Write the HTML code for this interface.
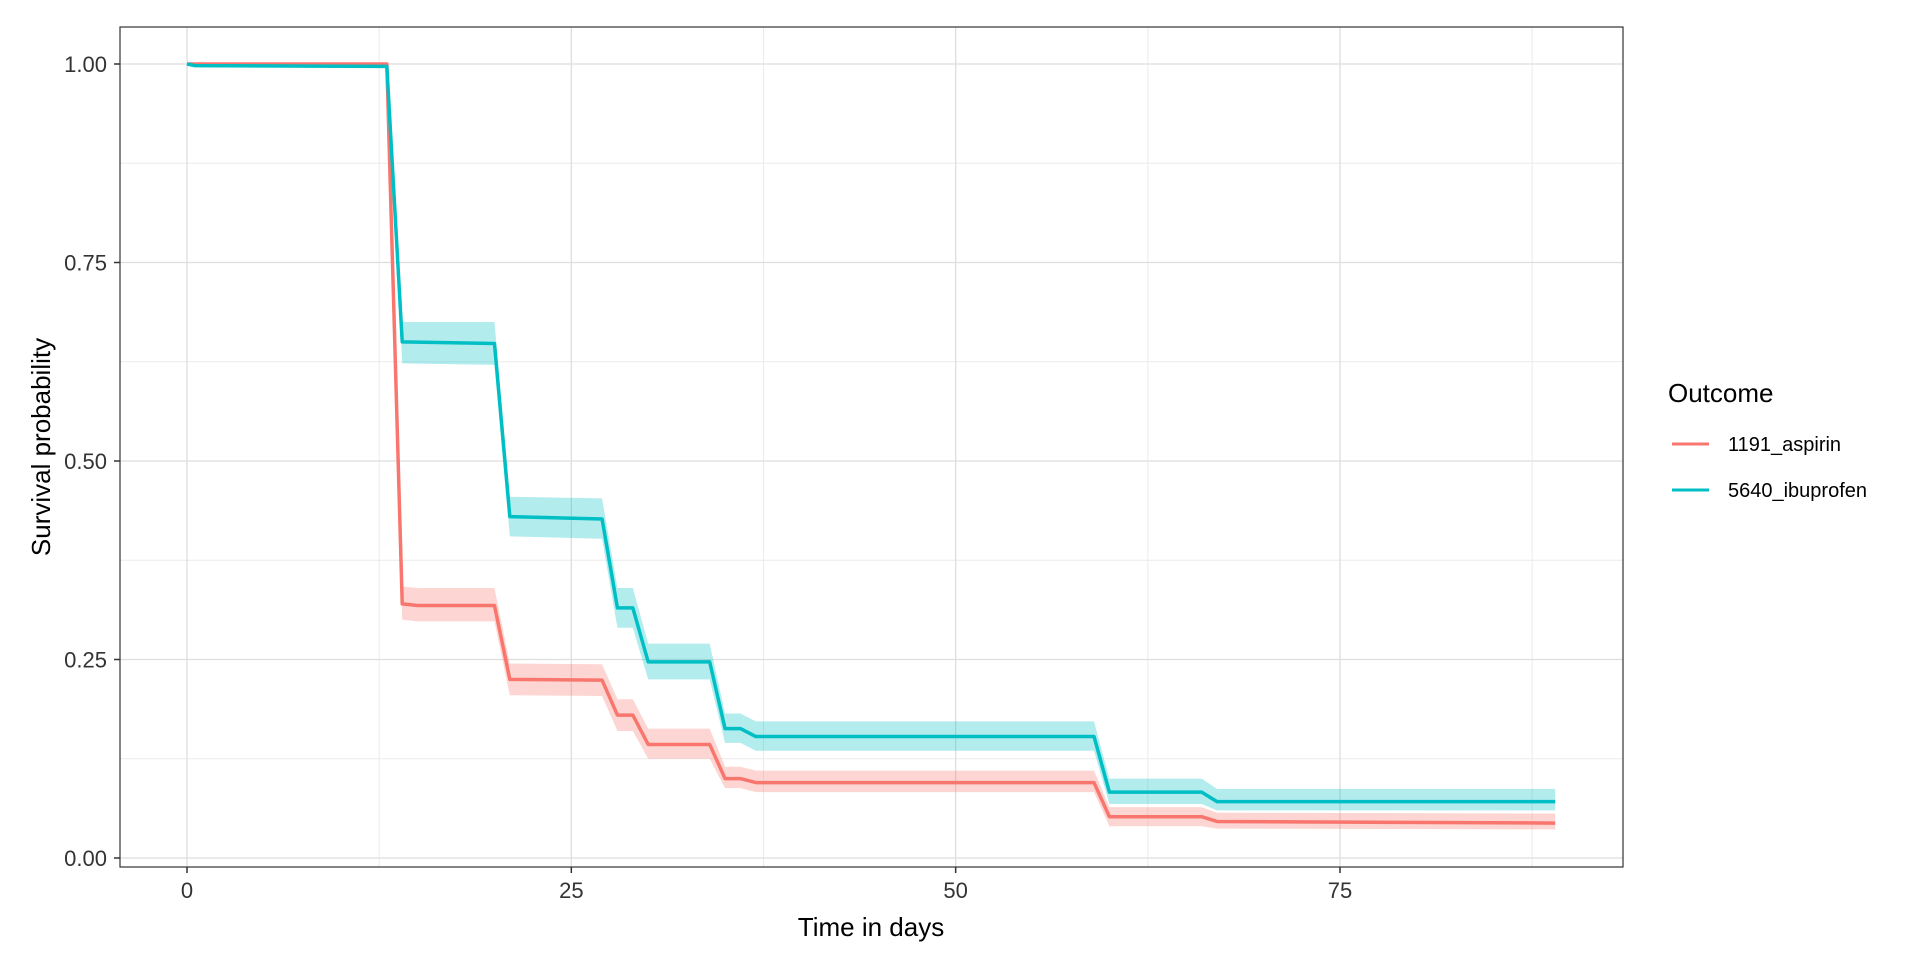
<!DOCTYPE html>
<html><head><meta charset="utf-8"><style>
body{margin:0;background:#fff;}
svg text{font-family:"Liberation Sans",sans-serif;}
</style></head><body>
<svg id="chart" width="1920" height="960" xmlns="http://www.w3.org/2000/svg">
<rect width="1920" height="960" fill="#fff"/>
<g id="grid"></g>
<g id="ribbons"></g>
<g id="lines"></g>
<rect x="120" y="27" width="1503" height="840" fill="none" stroke="#333" stroke-width="1.2"/>
<g id="axes"></g>
<text x="871" y="936" font-size="26" text-anchor="middle" fill="#000">Time in days</text>
<text transform="translate(50,447) rotate(-90)" font-size="26" text-anchor="middle" fill="#000">Survival probability</text>
<g>
<text x="1668" y="402" font-size="26" fill="#000">Outcome</text>
<line x1="1672" x2="1709" y1="444" y2="444" stroke="#F8766D" stroke-width="3"/>
<text x="1728" y="451" font-size="20" fill="#000">1191_aspirin</text>
<line x1="1672" x2="1709" y1="490" y2="490" stroke="#00BFC4" stroke-width="3"/>
<text x="1728" y="497" font-size="20" fill="#000">5640_ibuprofen</text>
</g>
</svg>
<script>
const ibuTimes=[0,0.5,13,14,20,21,27,28,29,30,34,35,36,37,59,60,66,67,89];
const ibuSurv=[1,0.998,0.997,0.65,0.648,0.43,0.427,0.315,0.315,0.247,0.247,0.163,0.163,0.153,0.153,0.083,0.083,0.071,0.071];
const ibuLower=[1,0.996,0.995,0.623,0.621,0.405,0.402,0.29,0.29,0.225,0.225,0.145,0.145,0.135,0.135,0.068,0.068,0.06,0.06];
const ibuUpper=[1,1,1,0.675,0.675,0.455,0.453,0.34,0.34,0.27,0.27,0.182,0.182,0.172,0.172,0.1,0.1,0.087,0.087];
const aspTimes=[0,13,14,15,20,21,27,28,29,30,34,35,36,37,59,60,66,67,89];
const aspSurv=[1,1,0.32,0.318,0.318,0.225,0.224,0.18,0.18,0.143,0.143,0.1,0.1,0.095,0.095,0.052,0.052,0.046,0.044];
const aspLower=[1,1,0.3,0.298,0.298,0.205,0.204,0.16,0.16,0.125,0.125,0.088,0.088,0.083,0.083,0.04,0.04,0.037,0.036];
const aspUpper=[1,1,0.342,0.34,0.34,0.245,0.244,0.2,0.2,0.163,0.163,0.115,0.115,0.11,0.11,0.064,0.064,0.057,0.056];
const xTicks=[0,25,50,75];
const xTickLabels=["0","25","50","75"];
const xMinor=[12.5,37.5,62.5,87.5];
const yTicks=[0,0.25,0.5,0.75,1];
const yTickLabels=["0.00","0.25","0.50","0.75","1.00"];
const yMinor=[0.125,0.375,0.625,0.875];

const NS="http://www.w3.org/2000/svg";
const xs=t=>187+t*15.373;
const ys=v=>858-v*794;
function mk(tag,attrs,parent){const e=document.createElementNS(NS,tag);for(const k in attrs)e.setAttribute(k,attrs[k]);parent.appendChild(e);return e;}
const grid=document.getElementById('grid'),axes=document.getElementById('axes');
xMinor.forEach(t=>{const l=mk('line',{x1:xs(t),x2:xs(t),y1:27,y2:867,stroke:'#ebebeb','stroke-width':1},grid);

});
yMinor.forEach(v=>{const l=mk('line',{x1:120,x2:1623,y1:ys(v),y2:ys(v),stroke:'#ebebeb','stroke-width':1},grid);

});
xTicks.forEach((t,i)=>{const l=mk('line',{x1:xs(t),x2:xs(t),y1:27,y2:867,stroke:'#dedede','stroke-width':1.3},grid);


const tk=mk('line',{x1:xs(t),x2:xs(t),y1:867,y2:873,stroke:'#333','stroke-width':1.5},axes);


const tx=mk('text',{x:xs(t),y:898,'font-size':22,'text-anchor':'middle',fill:'#333'},axes);
tx.textContent=xTickLabels[i];

});
yTicks.forEach((v,i)=>{const l=mk('line',{x1:120,x2:1623,y1:ys(v),y2:ys(v),stroke:'#dedede','stroke-width':1.3},grid);


const tk=mk('line',{x1:114,x2:120,y1:ys(v),y2:ys(v),stroke:'#333','stroke-width':1.5},axes);


const tx=mk('text',{x:107,y:ys(v)+8,'font-size':22,'text-anchor':'end',fill:'#333'},axes);
tx.textContent=yTickLabels[i];

});
function ribbon(times,lo,hi,color,name){
 let pts=times.map((t,i)=>xs(t)+','+ys(hi[i]));
 for(let i=times.length-1;i>=0;i--)pts.push(xs(times[i])+','+ys(lo[i]));
 const p=mk('polygon',{points:pts.join(' '),fill:color,'fill-opacity':0.3},document.getElementById('ribbons'));
 
 
}
function line(times,s,color,name){
 const p=mk('polyline',{points:times.map((t,i)=>xs(t)+','+ys(s[i])).join(' '),fill:'none',stroke:color,'stroke-width':3.5,'stroke-linejoin':'round'},document.getElementById('lines'));
 
 
}
ribbon(aspTimes,aspLower,aspUpper,'#F8766D','aspirin-ci-ribbon');
ribbon(ibuTimes,ibuLower,ibuUpper,'#00BFC4','ibuprofen-ci-ribbon');
line(aspTimes,aspSurv,'#F8766D','aspirin-survival-line');
line(ibuTimes,ibuSurv,'#00BFC4','ibuprofen-survival-line');
</script>
</body></html>
